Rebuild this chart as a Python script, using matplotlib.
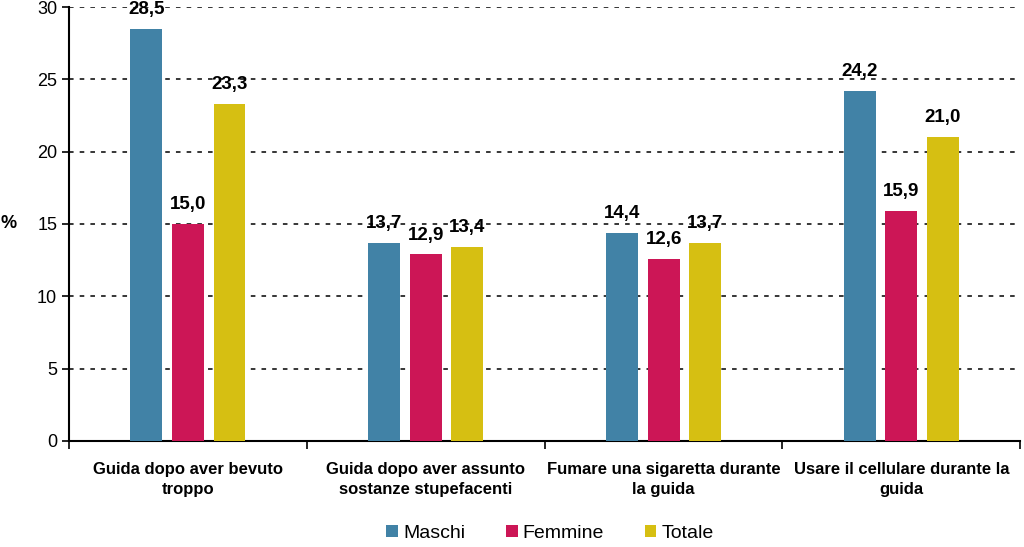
import numpy as np
import matplotlib.pyplot as plt

plt.rcParams['font.family'] = ['Liberation Sans', 'DejaVu Sans']

categories = ["Guida dopo aver bevuto\ntroppo",
              "Guida dopo aver assunto\nsostanze stupefacenti",
              "Fumare una sigaretta durante\nla guida",
              "Usare il cellulare durante la\nguida"]
series_names = ["Maschi", "Femmine", "Totale"]
maschi = [28.5, 13.7, 14.4, 24.2]
femmine = [15.0, 12.9, 12.6, 15.9]
totale = [23.3, 13.4, 13.7, 21.0]
colors = ["#4182a6", "#cc1656", "#d6bf12"]

fig = plt.figure(figsize=(10.24, 5.47), dpi=100)
ax = fig.add_axes([0.0674, 0.194, 0.929, 0.793])

x = np.arange(len(categories))
width = 0.134
step = 0.175
for i, (vals, name) in enumerate(zip([maschi, femmine, totale], series_names)):
    pos = x + (i - 1) * step
    ax.bar(pos, vals, width, color=colors[i], label=name, zorder=3)
    for px, v in zip(pos, vals):
        ax.text(px, v + 0.75, f"{v:.1f}".replace(".", ","), ha="center", va="bottom",
                fontsize=13.5, fontweight="bold", zorder=4)

ax.set_xlim(-0.5, len(categories) - 0.5)
ax.set_ylim(0, 30)
ax.set_yticks(range(0, 31, 5))
ax.tick_params(axis="y", labelsize=13, length=5, width=1.2, direction="out")
ax.yaxis.grid(True, linestyle=(0, (3, 4)), color="black", linewidth=1.1, zorder=0)

# category separators as ticks, labels in the middle
ax.set_xticks(np.arange(-0.5, len(categories), 1.0))
ax.set_xticklabels([])
ax.set_xticks(x, minor=True)
ax.set_xticklabels(categories, minor=True, fontsize=12, fontweight="bold",
                   linespacing=1.45)
ax.tick_params(axis="x", which="major", length=6, width=1.2)
ax.tick_params(axis="x", which="minor", length=0, pad=15)

for s in ["top", "right"]:
    ax.spines[s].set_visible(False)
ax.spines["left"].set_linewidth(1.5)
ax.spines["bottom"].set_linewidth(1.5)

ax.text(-0.064, 0.5, "%", transform=ax.transAxes, fontsize=13, fontweight="bold",
        ha="center", va="center")

fig.legend(loc="lower center", bbox_to_anchor=(0.537, -0.022), ncol=3, frameon=False,
           fontsize=14, handlelength=0.6, handleheight=0.6, handletextpad=0.25,
           columnspacing=2.1)

fig.savefig("out.png", dpi=100)
